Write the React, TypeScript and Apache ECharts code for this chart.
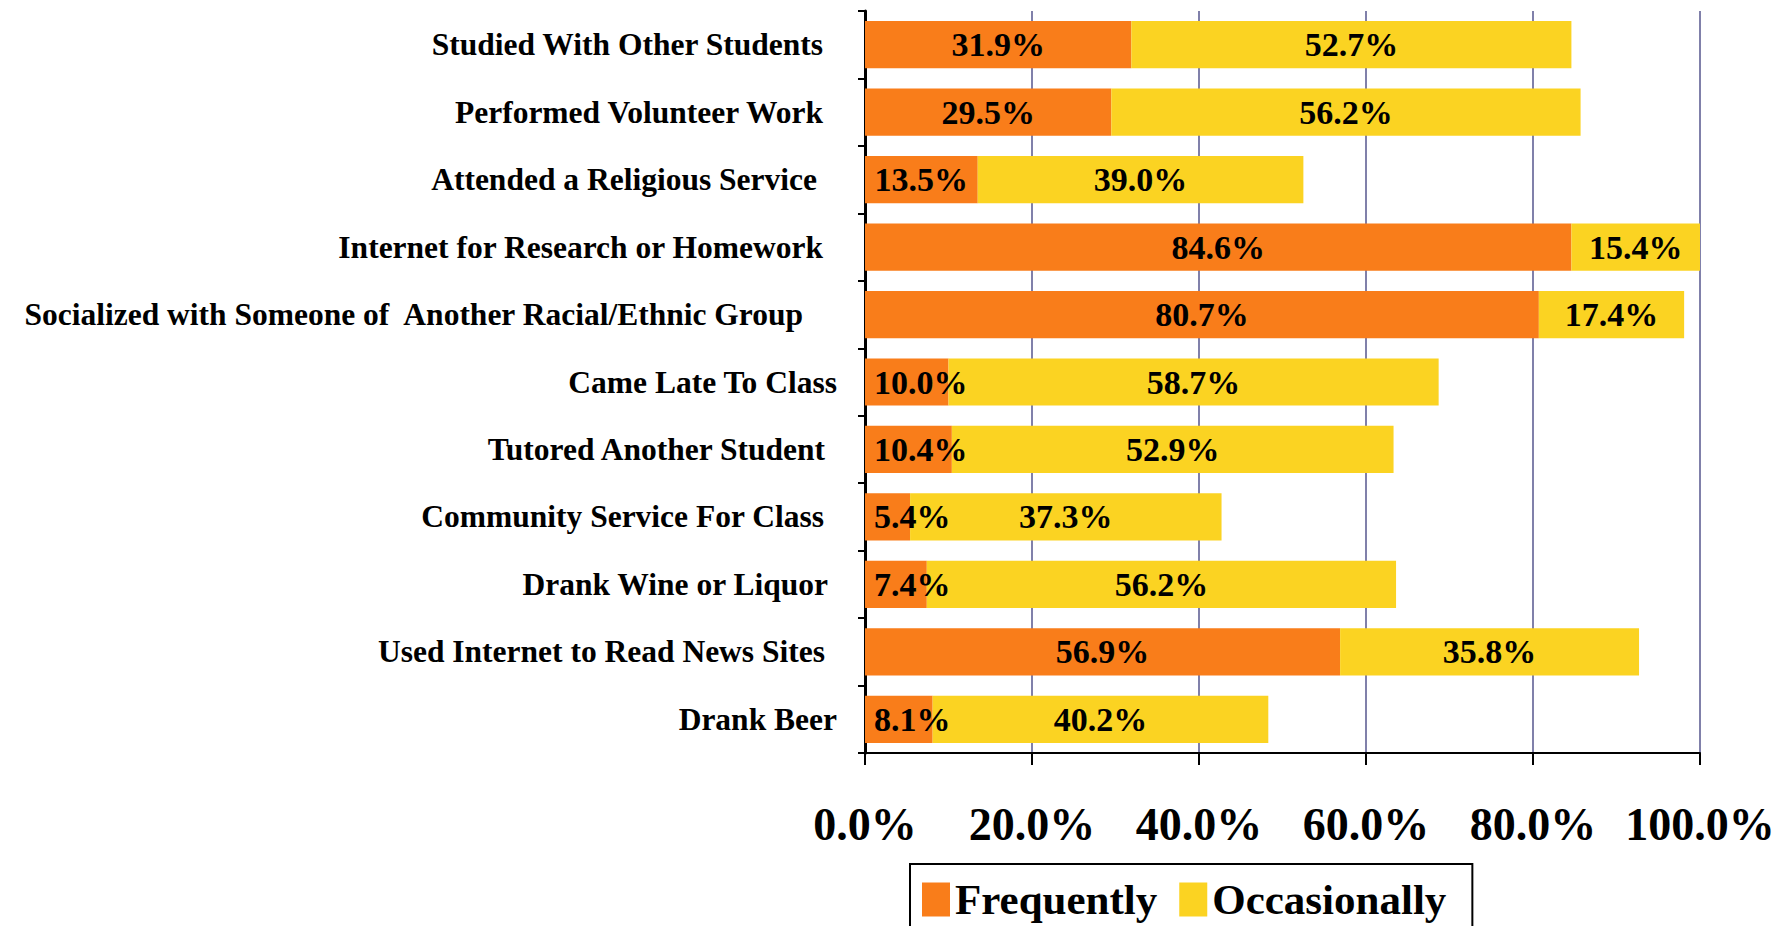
import React, { useEffect, useRef } from "react";
import * as echarts from "echarts";

const categories = [
  "Studied With Other Students",
  "Performed Volunteer Work",
  "Attended a Religious Service",
  "Internet for Research or Homework",
  "Socialized with Someone of  Another Racial/Ethnic Group",
  "Came Late To Class",
  "Tutored Another Student",
  "Community Service For Class",
  "Drank Wine or Liquor",
  "Used Internet to Read News Sites",
  "Drank Beer",
];
const frequently = [31.9, 29.5, 13.5, 84.6, 80.7, 10.0, 10.4, 5.4, 7.4, 56.9, 8.1];
const occasionally = [52.7, 56.2, 39.0, 15.4, 17.4, 58.7, 52.9, 37.3, 56.2, 35.8, 40.2];
const seriesNames = ["Frequently", "Occasionally"];
const xTicks = [0, 20, 40, 60, 80, 100];

// layout only: extra right padding for each category label (trailing blank in original)
const labelPad = [14, 14, 20, 14, 34, 0, 12, 13, 9, 12, 0];

const FONT = "'Liberation Serif', 'Times New Roman', serif";
const ORANGE = "#F97D1A";
const YELLOW = "#FBD322";

export default function App() {
  const ref = useRef<HTMLDivElement>(null);
  useEffect(() => {
    if (!ref.current) return;
    const chart = echarts.init(ref.current, null, { renderer: "svg" });
    const rich: Record<string, any> = {};
    labelPad.forEach((p, i) => {
      rich["p" + i] = {
        padding: [0, p, 0, 0],
        fontSize: 31.5,
        fontWeight: "bold",
        fontFamily: FONT,
        color: "#000",
      };
    });
    const pct = (v: number) => `${v.toFixed(1)}%`;
    const labelBase = {
      show: true,
      fontSize: 34,
      fontWeight: "bold",
      fontFamily: FONT,
      color: "#000",
      formatter: (p: any) => pct(p.value),
    };
    chart.setOption({
      animation: false,
      grid: { left: 865, right: 90, top: 11, bottom: 173, containLabel: false },
      legend: {
        data: seriesNames,
        left: 910,
        top: 864,
        orient: "horizontal",
        icon: "rect",
        itemWidth: 28,
        itemHeight: 34,
        itemGap: 22,
        padding: [14, 26, 24, 12],
        borderColor: "#000",
        borderWidth: 2,
        backgroundColor: "#fff",
        textStyle: { fontSize: 43, fontWeight: "bold", fontFamily: FONT, color: "#000" },
      },
      xAxis: {
        type: "value",
        min: xTicks[0],
        max: xTicks[xTicks.length - 1],
        interval: 20,
        axisLine: { show: true, lineStyle: { color: "#000", width: 2 } },
        axisTick: { show: true, length: 12, lineStyle: { color: "#000", width: 2 } },
        splitLine: { show: true, lineStyle: { color: "#8080AA", width: 2 } },
        axisLabel: {
          fontSize: 46,
          fontWeight: "bold",
          fontFamily: FONT,
          color: "#000",
          margin: 48,
          formatter: (v: number) => pct(v),
        },
      },
      yAxis: {
        type: "category",
        data: categories,
        inverse: true,
        axisLine: { show: true, lineStyle: { color: "#000", width: 3 } },
        axisTick: { show: true, length: 7, lineStyle: { color: "#000", width: 2 } },
        splitLine: { show: false },
        axisLabel: {
          margin: 28,
          fontSize: 31.5,
          fontWeight: "bold",
          fontFamily: FONT,
          color: "#000",
          formatter: (v: string, i: number) => `{p${i}|${v}}`,
          rich,
        },
      },
      series: [
        {
          name: seriesNames[0],
          type: "bar",
          stack: "total",
          barCategoryGap: "30%",
          itemStyle: { color: ORANGE },
          label: { ...labelBase, position: "inside" },
          data: frequently.map((v) =>
            v < 12
              ? { value: v, label: { position: "insideLeft", distance: 9 } }
              : { value: v }
          ),
        },
        {
          name: seriesNames[1],
          type: "bar",
          stack: "total",
          barCategoryGap: "30%",
          itemStyle: { color: YELLOW },
          label: { ...labelBase, position: "inside" },
          data: occasionally,
        },
      ],
    });
    return () => chart.dispose();
  }, []);
  return (
    <div
      ref={ref}
      style={{ position: "absolute", left: 0, top: 0, width: 1790, height: 926, background: "#fff" }}
    />
  );
}
